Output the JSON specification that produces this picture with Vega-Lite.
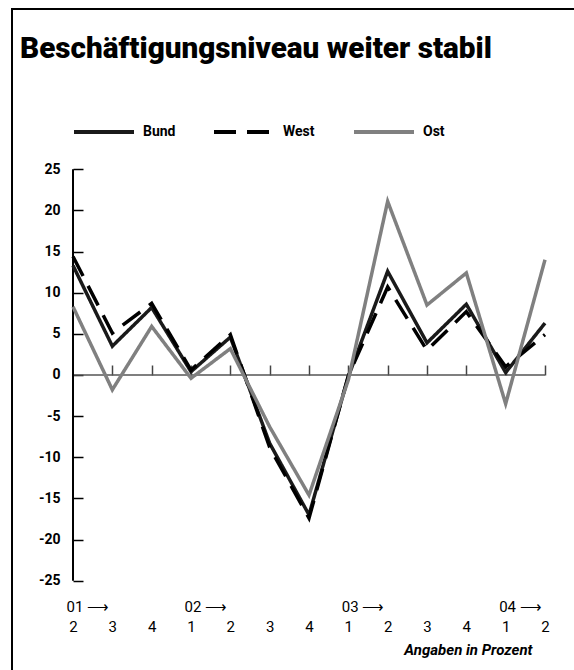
{
  "$schema": "https://vega.github.io/schema/vega-lite/v6.json",
  "width": 570,
  "height": 670,
  "autosize": {"type": "none"},
  "padding": {"left": 12, "top": 9, "right": 0, "bottom": 0},
  "background": "white",
  "config": {
    "view": {"stroke": "black", "strokeWidth": 2},
    "font": "Roboto"
  },
  "title": {
    "text": "Beschäftigungsniveau weiter stabil",
    "anchor": "start",
    "frame": "group",
    "baseline": "alphabetic",
    "offset": 0,
    "dx": 8,
    "dy": 79,
    "font": "Roboto",
    "fontSize": 29.7,
    "fontWeight": 900,
    "color": "black"
  },
  "datasets": {
    "reihen": [
      {"q": 0, "reihe": "Bund", "wert": 13.3},
      {"q": 1, "reihe": "Bund", "wert": 3.5},
      {"q": 2, "reihe": "Bund", "wert": 8.2},
      {"q": 3, "reihe": "Bund", "wert": 0.4},
      {"q": 4, "reihe": "Bund", "wert": 4.6},
      {"q": 5, "reihe": "Bund", "wert": -8.3},
      {"q": 6, "reihe": "Bund", "wert": -17.0},
      {"q": 7, "reihe": "Bund", "wert": -0.2},
      {"q": 8, "reihe": "Bund", "wert": 12.6},
      {"q": 9, "reihe": "Bund", "wert": 3.9},
      {"q": 10, "reihe": "Bund", "wert": 8.6},
      {"q": 11, "reihe": "Bund", "wert": 0.3},
      {"q": 12, "reihe": "Bund", "wert": 6.3},
      {"q": 0, "reihe": "West", "wert": 14.4},
      {"q": 1, "reihe": "West", "wert": 5.1},
      {"q": 2, "reihe": "West", "wert": 8.7},
      {"q": 3, "reihe": "West", "wert": 0.6},
      {"q": 4, "reihe": "West", "wert": 4.9},
      {"q": 5, "reihe": "West", "wert": -8.8},
      {"q": 6, "reihe": "West", "wert": -17.4},
      {"q": 7, "reihe": "West", "wert": -0.1},
      {"q": 8, "reihe": "West", "wert": 10.7},
      {"q": 9, "reihe": "West", "wert": 3.0},
      {"q": 10, "reihe": "West", "wert": 7.7},
      {"q": 11, "reihe": "West", "wert": 1.0},
      {"q": 12, "reihe": "West", "wert": 4.9},
      {"q": 0, "reihe": "Ost", "wert": 8.3},
      {"q": 1, "reihe": "Ost", "wert": -1.8},
      {"q": 2, "reihe": "Ost", "wert": 5.9},
      {"q": 3, "reihe": "Ost", "wert": -0.4},
      {"q": 4, "reihe": "Ost", "wert": 3.2},
      {"q": 5, "reihe": "Ost", "wert": -6.3},
      {"q": 6, "reihe": "Ost", "wert": -14.6},
      {"q": 7, "reihe": "Ost", "wert": -0.6},
      {"q": 8, "reihe": "Ost", "wert": 21.1},
      {"q": 9, "reihe": "Ost", "wert": 8.5},
      {"q": 10, "reihe": "Ost", "wert": 12.4},
      {"q": 11, "reihe": "Ost", "wert": -3.5},
      {"q": 12, "reihe": "Ost", "wert": 14.0}
    ]
  },
  "layer": [
    {
      "data": {"values": [{}]},
      "mark": {"type": "rule", "color": "#555555", "strokeWidth": 1.5},
      "encoding": {
        "x": {
          "datum": 0,
          "type": "quantitative",
          "scale": {"domain": [-1.551, 12.941], "nice": false, "zero": false},
          "axis": {
            "orient": "top",
            "values": [1, 2, 3, 4, 5, 6, 7, 8, 9, 10, 11, 12],
            "labels": false,
            "domain": false,
            "grid": false,
            "ticks": true,
            "tickSize": 10,
            "tickColor": "#444444",
            "tickWidth": 1.5,
            "offset": -366,
            "title": null
          }
        },
        "x2": {"datum": 12},
        "y": {
          "datum": 0,
          "type": "quantitative",
          "scale": {"domain": [-36.95, 44.48], "nice": false, "zero": false},
          "axis": {
            "orient": "right",
            "values": [-25, -20, -15, -10, -5, 0, 5, 10, 15, 20, 25],
            "labels": false,
            "domain": false,
            "grid": false,
            "ticks": true,
            "tickSize": 10,
            "tickColor": "black",
            "tickWidth": 1.5,
            "offset": -509,
            "title": null
          }
        }
      }
    },
    {
      "data": {"values": [{}]},
      "mark": {"type": "rule", "color": "black", "strokeWidth": 2},
      "encoding": {
        "x": {
          "datum": 0,
          "type": "quantitative",
          "axis": {
            "orient": "bottom",
            "values": [0, 3, 7, 11],
            "labelExpr": "'0' + floor((datum.value + 5) / 4) + ' ⟶'",
            "ticks": false,
            "domain": false,
            "grid": false,
            "offset": -68,
            "labelPadding": 0,
            "labelBaseline": "alphabetic",
            "labelAlign": "left",
            "labelOffset": -7,
            "labelFlush": false,
            "labelOverlap": false,
            "labelFont": "Roboto",
            "labelFontSize": 15,
            "labelColor": "black",
            "title": null
          }
        },
        "y": {"datum": -25, "type": "quantitative", "axis": null},
        "y2": {"datum": 25}
      }
    },
    {
      "data": {"name": "reihen"},
      "mark": {"type": "line", "strokeWidth": 3.5, "strokeCap": "butt", "strokeJoin": "miter"},
      "encoding": {
        "x": {
          "field": "q",
          "type": "quantitative",
          "axis": {
            "orient": "bottom",
            "values": [0, 1, 2, 3, 4, 5, 6, 7, 8, 9, 10, 11, 12],
            "labelExpr": "((datum.value + 1) % 4) + 1",
            "ticks": false,
            "domain": false,
            "grid": false,
            "offset": -48,
            "labelPadding": 0,
            "labelBaseline": "alphabetic",
            "labelFlush": false,
            "labelOverlap": false,
            "labelFont": "Roboto",
            "labelFontSize": 15,
            "labelColor": "black",
            "title": "Angaben in Prozent",
            "titleX": 520,
            "titleY": 23,
            "titleAlign": "right",
            "titleBaseline": "alphabetic",
            "titleFont": "Roboto",
            "titleFontSize": 15,
            "titleFontWeight": "bold",
            "titleFontStyle": "italic",
            "titleColor": "black"
          }
        },
        "y": {
          "field": "wert",
          "type": "quantitative",
          "axis": {
            "orient": "left",
            "values": [-25, -20, -15, -10, -5, 0, 5, 10, 15, 20, 25],
            "labelExpr": "toString(datum.value)",
            "ticks": false,
            "domain": false,
            "grid": false,
            "offset": -61,
            "labelPadding": 13,
            "labelFlush": false,
            "labelOverlap": false,
            "labelFont": "Roboto",
            "labelFontSize": 14,
            "labelFontWeight": "bold",
            "labelColor": "black",
            "title": null
          }
        },
        "color": {
          "field": "reihe",
          "type": "nominal",
          "scale": {"domain": ["Bund", "West", "Ost"], "range": ["#1a1a1a", "#000000", "#808080"]},
          "legend": {
            "orient": "none",
            "legendX": 60,
            "legendY": 91,
            "direction": "horizontal",
            "title": null,
            "symbolType": "stroke",
            "symbolSize": 3600,
            "symbolStrokeWidth": 4,
            "labelFont": "Roboto",
            "labelFontSize": 14,
            "labelFontWeight": "bold",
            "labelColor": "black",
            "labelOffset": 7,
            "gridAlign": "all",
            "columnPadding": 30
          }
        },
        "strokeDash": {
          "field": "reihe",
          "type": "nominal",
          "scale": {"domain": ["Bund", "West", "Ost"], "range": [[1, 0], [22, 11], [1, 0]]},
          "legend": {
            "orient": "none",
            "legendX": 60,
            "legendY": 91,
            "direction": "horizontal",
            "title": null,
            "symbolType": "stroke",
            "symbolSize": 3600,
            "symbolStrokeWidth": 4,
            "labelFont": "Roboto",
            "labelFontSize": 14,
            "labelFontWeight": "bold",
            "labelColor": "black",
            "labelOffset": 7,
            "gridAlign": "all",
            "columnPadding": 30
          }
        }
      }
    }
  ],
  "resolve": {"axis": {"x": "independent", "y": "independent"}}
}
